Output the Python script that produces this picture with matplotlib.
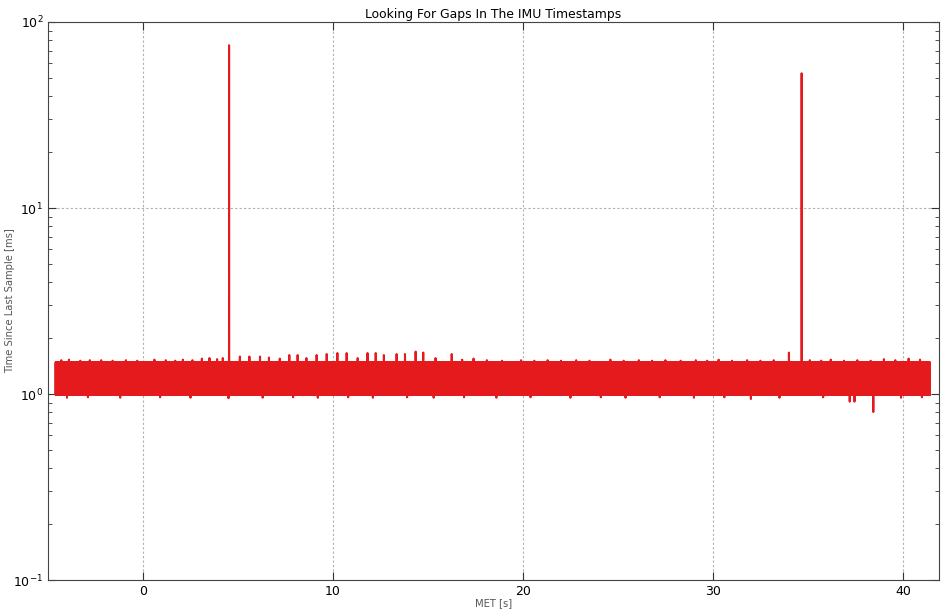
import numpy as np
import matplotlib
matplotlib.use("Agg")
import matplotlib.pyplot as plt

# ---- data ----
met_start_s = -4.6          # first sample MET
met_end_s = 41.42           # last sample MET
# nominal sample intervals: the IMU alternates short / long gaps
interval_cycle_ms = [0.99, 1.48]

# large gaps (MET [s], gap [ms])
gap_met = [4.53, 34.67]
gap_ms = [75.0, 53.0]

# upper excursions above the band (MET [s], gap [ms])
high_met = [-4.3, -3.9, -3.3, -2.8, -2.2, -1.6, -0.9, -0.3, 0.6, 1.2, 1.7, 2.1, 2.6, 3.1, 3.5, 3.9,
            4.2, 5.1, 5.6, 6.16, 6.63, 7.2, 7.7, 8.14, 8.6, 9.14, 9.67,
            10.23, 10.72, 11.3, 11.82, 12.25, 12.68, 13.35, 13.79, 14.35, 14.75, 15.4, 16.25, 16.8,
            17.4, 18.1, 18.9, 19.9, 20.6, 21.3, 22.0, 22.8, 23.5, 24.6, 25.3, 26.1, 26.8, 27.5,
            28.3, 29.1, 29.7, 30.3, 31.0, 31.8, 32.5, 33.2, 34.0, 35.1, 35.7, 36.2, 36.9, 37.6,
            38.3, 39.0, 39.6, 40.3, 40.9]
high_ms = [1.52, 1.53, 1.51, 1.52, 1.52, 1.51, 1.52, 1.51, 1.53, 1.52, 1.51, 1.53, 1.52, 1.55, 1.56, 1.54,
           1.56, 1.59, 1.59, 1.59, 1.57, 1.55, 1.62, 1.62, 1.56, 1.62, 1.64,
           1.66, 1.66, 1.56, 1.66, 1.66, 1.62, 1.64, 1.64, 1.69, 1.67, 1.56, 1.64, 1.53,
           1.55, 1.52, 1.51, 1.52, 1.51, 1.52, 1.51, 1.52, 1.51, 1.53, 1.51, 1.52, 1.51, 1.52,
           1.51, 1.52, 1.51, 1.53, 1.51, 1.52, 1.51, 1.52, 1.67, 1.52, 1.51, 1.53, 1.51, 1.52,
           1.51, 1.54, 1.52, 1.55, 1.53]

# lower excursions below the band (MET [s], gap [ms])
low_met = [-4.0, -2.9, -1.2, 0.9, 2.5, 4.5, 6.3, 7.9, 9.2, 10.8, 12.1, 13.9, 15.3, 16.9, 18.6,
           20.4, 22.5, 24.1, 25.4, 27.2, 29.0, 30.6, 32.0, 33.5, 35.8, 37.2, 37.45, 38.44, 39.9, 41.0]
low_ms = [0.955, 0.96, 0.955, 0.96, 0.955, 0.95, 0.955, 0.96, 0.955, 0.96, 0.955, 0.96, 0.955, 0.96, 0.955,
          0.96, 0.955, 0.96, 0.955, 0.96, 0.955, 0.96, 0.94, 0.955, 0.96, 0.91, 0.91, 0.80, 0.955, 0.96]

# ---- build the sample sequence ----
n_samples = int(round((met_end_s - met_start_s) * 1000.0 / np.mean(interval_cycle_ms)))
gaps = np.resize(np.array(interval_cycle_ms), n_samples)
met = met_start_s + np.concatenate([[0.0], np.cumsum(gaps[1:]) / 1000.0])
for tx, v in zip(high_met + low_met + gap_met, high_ms + low_ms + gap_ms):
    i = int(np.searchsorted(met, tx))
    if 0 <= i < n_samples:
        gaps[i] = v

# ---- plot ----
fig = plt.figure(figsize=(9.47, 6.16), dpi=100, facecolor="white")
ax = fig.add_axes([48 / 947, 1 - 580 / 616, (939 - 48) / 947, (580 - 22) / 616])
ax.plot(met, gaps, color="#e41a1c", linewidth=1.5, solid_joinstyle="round", solid_capstyle="round")
ax.set_yscale("log")
ax.set_ylim(0.1, 100)
ax.set_xlim(-5, 41.9)
ax.set_xticks([0, 10, 20, 30, 40])
ax.grid(True, which="major", color="#b0b0b0", linestyle=(0, (2, 2)), linewidth=0.8)
ax.tick_params(which="both", direction="in", top=True, right=True, labelsize=9, colors="#333333",
               labelcolor="black")
ax.tick_params(which="major", length=6)
ax.tick_params(which="minor", length=3)
for s in ax.spines.values():
    s.set_color("#444444")
ax.set_title("Looking For Gaps In The IMU Timestamps", fontsize=8.9, pad=3)
ax.set_xlabel("MET [s]", fontsize=7.2, color="#555555")
ax.set_ylabel("Time Since Last Sample [ms]", fontsize=7.2, color="#555555")
ax.yaxis.set_label_coords(-(48 - 15) / 891, 0.5)
ax.xaxis.set_label_coords(0.5, -(598 - 580) / 558)
fig.savefig("out.png", dpi=100, facecolor="white")
